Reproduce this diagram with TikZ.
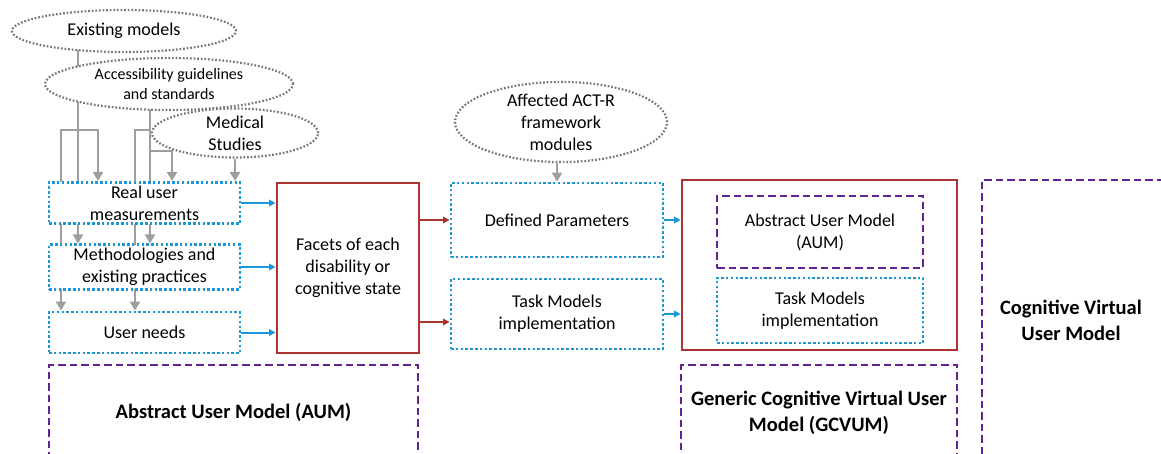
\documentclass[tikz,border=0pt]{standalone}
\usepackage{fontspec}
\setmainfont{Carlito}
\usetikzlibrary{arrows.meta,shapes.geometric,backgrounds}

\definecolor{dotblue}{RGB}{28,150,214}
\definecolor{boxred}{RGB}{172,52,48}
\definecolor{dashpurple}{RGB}{96,34,148}
\definecolor{linegray}{RGB}{158,158,158}
\definecolor{ellgray}{RGB}{118,118,118}

\tikzset{
  bluebox/.style={rectangle,draw=dotblue,line width=2.8pt,dash pattern=on 2.5pt off 2.3pt,
    fill=white,align=center,font=\fontsize{18}{22}\selectfont},
  redbox/.style={rectangle,draw=boxred,line width=2.8pt,fill=white,align=center,
    font=\fontsize{18}{22}\selectfont},
  purplebox/.style={rectangle,draw=dashpurple,line width=2.8pt,dash pattern=on 7.5pt off 4pt,
    align=center,font=\bfseries\fontsize{20.5}{26}\selectfont},
  source/.style={ellipse,draw=ellgray,line width=2.2pt,dash pattern=on 1.7pt off 1.9pt,
    fill=white,inner sep=0pt,align=center,font=\fontsize{18}{22}\selectfont},
  gline/.style={draw=linegray,line width=2.6pt},
  garrow/.style={gline,-{Triangle[width=10pt,length=9pt]}},
  bluearrow/.style={draw=dotblue,line width=2pt,-{Triangle[width=6.5pt,length=6.5pt]}},
  redarrow/.style={draw=boxred,line width=2pt,-{Triangle[width=6.5pt,length=6.5pt]}}
}

\begin{document}
\begin{tikzpicture}[x=1pt,y=-1pt]
  \useasboundingbox (0,0) rectangle (1161,454);
  \clip (0,0) rectangle (1161,454);

  % sources
  \begin{scope}[every node/.style={source}]
    \node[minimum width=224,minimum height=42] (exist)   at (124,31)  {Existing models};
    \node[minimum width=248,minimum height=52,font=\fontsize{16}{20}\selectfont]
                                               (access)  at (169,84)  {Accessibility guidelines\\and standards};
    \node[minimum width=166,minimum height=46] (medical) at (235,133) {Medical\\Studies};
    \node[minimum width=212,minimum height=74] (actr)    at (561,122) {Affected ACT-R\\framework\\modules};
  \end{scope}

  % left column
  \begin{scope}[every node/.style={bluebox,minimum width=191}]
    \node[minimum height=40] (real)  at (144.5,203)   {Real user\\measurements};
    \node[minimum height=42] (meth)  at (144.5,267)   {Methodologies and\\existing practices};
    \node[minimum height=41] (needs) at (144.5,332.5) {User needs};
  \end{scope}

  \node[redbox,minimum width=142,minimum height=170] (facets) at (348,268)
    {Facets of each\\disability or\\cognitive state};

  \begin{scope}[every node/.style={bluebox,minimum width=212}]
    \node[minimum height=74] (params) at (557,220) {Defined Parameters};
    \node[minimum height=70] (tasks)  at (557,314) {Task Models\\implementation};
  \end{scope}

  % generic model
  \node[redbox,minimum width=275,minimum height=170] (gframe) at (819.5,265) {};
  \node[purplebox,minimum width=206,minimum height=72,font=\fontsize{18}{22}\selectfont]
    (inaum) at (820,232) {Abstract User Model\\(AUM)};
  \node[bluebox,minimum width=206,minimum height=65] (intask) at (820,310.5)
    {Task Models\\implementation};

  % model frames
  \begin{scope}[every node/.style={purplebox}]
    \node[minimum width=369,minimum height=95]  (aum)   at (233.5,412.5) {Abstract User Model (AUM)};
    \node[minimum width=276,minimum height=95]  (gcvum) at (819,412.5)   {Generic Cognitive Virtual User\\Model (GCVUM)};
    \node[minimum width=204,minimum height=280] (cvum)  at (1084,320)    {};
  \end{scope}
  \node[align=center,font=\bfseries\fontsize{20.5}{26}\selectfont] (cvumtext)
    at ([xshift=-13]cvum.center) {Cognitive Virtual\\User Model};

  % gray feeds, behind the boxes
  \coordinate (j1) at (78,130);
  \coordinate (j2) at (150,130);
  \coordinate (j3) at (150,151);
  \begin{scope}[on background layer]
    \draw[gline]  (exist.center -| j1) -- (j1);
    \draw[garrow] (j1) -| ([xshift=20]j1 |- real.north);
    \draw[garrow] (j1) -- (j1 |- meth.north);
    \draw[garrow] (j1) -| ([xshift=-17]j1 |- needs.north);
    \draw[gline]  (access.center -| j2) -- (j3);
    \draw[garrow] (j2) -- (j2 |- meth.north);
    \draw[garrow] (j2) -| ([xshift=-15]j2 |- needs.north);
    \draw[garrow] (j3) -| ([xshift=22]j3 |- real.north);
  \end{scope}
  \draw[garrow] (medical.south) -- (medical.south |- real.north);
  \draw[garrow] (params.north |- actr.south) -- (params.north);

  % flows
  \path (real.east)  edge[bluearrow] (real.east -| facets.west);
  \path (meth.east)  edge[bluearrow] (meth.east -| facets.west);
  \path (needs.east) edge[bluearrow] (needs.east -| facets.west);
  \path (params.west -| facets.east) edge[redarrow] (params.west);
  \path ([yshift=-8]tasks.west -| facets.east) edge[redarrow] ([yshift=-8]tasks.west);
  \path (params.east) edge[bluearrow] (params.east -| gframe.west);
  \path (tasks.east)  edge[bluearrow] (tasks.east -| gframe.west);

\end{tikzpicture}
\end{document}
